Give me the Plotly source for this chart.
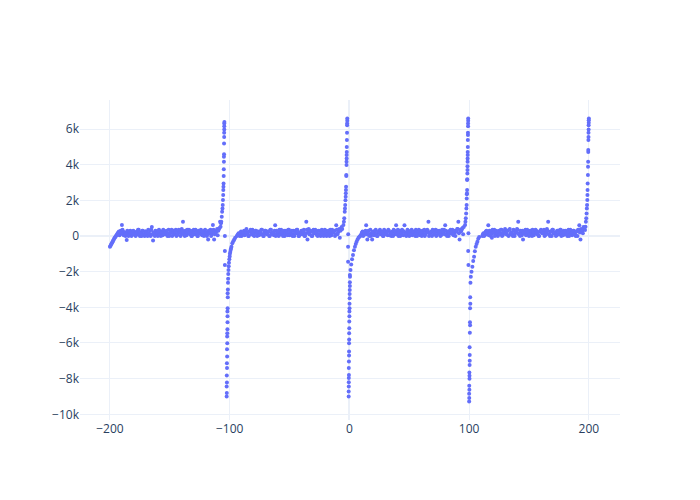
import plotly.graph_objects as go

# ---- baseline segments: start x, step 1, y values ----
base_a_x0 = -200
base_a_y = [-600, -480, -350, -220, -100, 0, 100, 200, 50, 300, 620, 250, 100, 0, -220,
            200, 100, 300, 0, 150, 250, 50, 200, 100, 350, 0, 200, 300, 100, 0, 250, 150,
            350, 100, 0, 500, -250, 200, 300, 100, 0, 350, 150, 250, 50, 300, 100, 200, 0,
            350, 150, 250, 0, 300, 100, 350, 50, 200, 300, 0, 400, 800, 150, 300, 50, 200,
            350, 100, 0, 250, 350, 100, 200, 0, 300, 150, 350, 50, 200, 300, 100, 0, -200,
            250, 350, 100, 620, -200, 200, 300, 50, 400, 800]
base_a2_x0 = -199.5
base_a2_y = [-540, -400, -280, -150, -50, 50, 150, 250, 100, 200, 350, 50, 200, 100, 300, 0,
             250, 150, 200, 300, 100, 0, 250, 350, 150, 200, 0, 300, 100, 250, 200, 0, 150, 300,
             350, 100, 200, 0, 250, 150, 300, 100, 0, 200, 350, 150, 250, 300, 100, 0, 200, 350,
             150, 300, 250, 0, 100, 350, 200, 150, 300, 100, 0, 250, 350, 200, 150, 300, 0, 100,
             250, 350, 200, 0, 150, 300, 100, 250, 0, 350, 200, 100, 300, 150, 0, 250, 350, 100,
             200, 400, 300, 450]

base_b_x0 = -94
base_b_y = [0, 100, 50, 200, 0, 150, 300, 100, 400, 200, 0, 250, 100, 350, 50, 200, 300, 0,
            150, 250, 100, 350, 0, 200, 300, 100, 250, 0, 350, 150, 200, 50, 600, 300, 100, 0,
            250, 350, 100, 200, 0, 300, 150, 350, 50, 200, 300, 100, 0, 250, 350, 150, 0, 200,
            300, 100, 350, 0, 800, -200, 400, 100, 250, 0, 350, 150, 200, 50, 300, 100, 0,
            350, 200, 100, 300, 0, 250, 150, 350, 50, 200, 300, 0, 600, 100, 300, -100, 350, 400]
base_b2_x0 = -93.5
base_b2_y = [50, 150, 0, 250, 100, 200, 50, 300, 150, 0, 250, 350, 100, 200, 0, 300, 150, 250,
             50, 200, 350, 100, 0, 300, 200, 150, 250, 0, 350, 100, 200, 300, 0, 150, 250, 350,
             100, 200, 0, 300, 150, 250, 50, 350, 200, 100, 0, 300, 250, 150, 350, 0, 200, 100,
             300, 250, 0, 150, 350, 200, 100, 300, 0, 250, 150, 350, 200, 0, 100, 300, 250, 150,
             0, 350, 200, 100, 300, 0, 250, 350, 200, 300, 100, 350, 200, 400, 300, 500]

base_c_x0 = 9
base_c_y = [0, 100, 250, 50, 200, 600, -200, 300, 100, 0, -200, 250, 150, 350, 0, 200, 300,
            100, 250, 0, 350, 150, 200, 50, 300, 100, 0, 250, 350, 100, 600, 200, 0, 300, 150,
            350, 50, 600, 200, 100, 300, 0, 250, 350, 100, 200, 0, 300, 150, 350, 50, 200, 300,
            100, 0, 250, 350, 800, 150, 200, 0, 300, 100, 350, 50, 200, 300, 0, 150, 250, 350,
            600, 100, 200, 0, 300, 150, 350, 50, 200, 300, 400, 800, -200, 250, 400, 100]
base_c2_x0 = 9.5
base_c2_y = [50, 200, 0, 150, 300, 100, 250, 0, 350, 150, 200, 50, 300, 100, 0, 250, 350, 150,
             200, 0, 300, 100, 250, 350, 50, 200, 150, 0, 300, 250, 100, 350, 200, 0, 150, 300,
             250, 100, 0, 350, 200, 150, 300, 50, 250, 100, 350, 0, 200, 300, 150, 0, 250, 350,
             100, 200, 300, 0, 150, 250, 350, 100, 200, 0, 300, 150, 250, 50, 350, 200, 100, 300,
             0, 250, 150, 350, 200, 100, 300, 0, 250, 400, 150, 350, 300, 450, 500]

base_d_x0 = 111
base_d_y = [0, 150, 50, 250, 100, 600, 300, 0, -100, 200, 350, 100, 250, 0, 300, 150, 350,
            50, 200, 400, 100, 300, 0, 400, 200, 100, 350, 0, 250, 400, 800, 150, 300, 50,
            -200, 250, 350, 100, 200, 0, 300, 150, 350, 50, 200, 300, 100, 0, 250, 350, 150,
            200, 0, 300, 400, 800, 100, 250, 0, 350, 150, 200, 50, 300, 100, 350, 0, 200, 300,
            100, 250, 0, 350, 150, 200, 50, 300, 100, 0, 250, 350, 600, -200, 300, 150, 400]
base_d2_x0 = 111.5
base_d2_y = [100, 0, 200, 300, 150, 50, 250, 100, 350, 200, 0, 300, 150, 250, 100, 350, 0, 200,
             300, 150, 250, 50, 350, 100, 200, 0, 300, 150, 250, 350, 100, 0, 200, 300, 150, 250,
             50, 350, 200, 100, 300, 0, 250, 150, 350, 200, 100, 0, 300, 250, 150, 350, 50, 200,
             300, 100, 0, 250, 350, 150, 200, 0, 300, 100, 250, 350, 150, 50, 200, 300, 100, 250,
             0, 350, 150, 200, 300, 100, 250, 0, 350, 200, 400, 300, 500]

# ---- spikes ----
spike1_pos_x = [-107.6, -107.3, -107.0, -106.6, -106.3, -106.0, -105.8, -105.6, -105.4, -105.3,
                -105.2, -105.1, -105.0, -104.9, -104.8, -104.8, -104.7, -104.7, -104.6, -104.6,
                -104.5, -104.5, -104.5, -104.4, -104.0]
spike1_pos_y = [520, 710, 800, 1080, 1360, 1550, 1740, 2020, 2300, 2580, 2760, 2950, 3360, 3750,
                4160, 4440, 4580, 5190, 5560, 5790, 5980, 6160, 6310, 6400, 0]
spike1_neg_x = [-104.0, -104.0, -102.5, -102.4, -102.5, -102.3, -102.4, -102.2, -102.3, -102.1,
                -102.2, -102.0, -102.1, -101.9, -101.8, -101.9, -101.7, -101.6, -101.7, -101.4,
                -101.2, -102.0, -101.8, -101.5, -101.3, -101.0, -100.8, -100.6, -100.3, -100.0,
                -99.8, -99.5, -99.2, -98.9, -98.5, -97.8, -97.0, -96.2, -95.4]
spike1_neg_y = [-840, -1620, -9000, -8810, -8440, -8220, -7830, -7410, -7130, -6760, -6350, -6010,
                -5640, -5230, -4840, -4240, -4050, -3440, -3210, -2620, -2130, -5450, -4500, -3000,
                -2400, -1900, -1700, -1500, -1300, -1150, -1000, -900, -780, -700, -600, -400, -300,
                -200, -100]

spike2_pos_x = [-5.0, -4.6, -4.3, -3.9, -3.7, -3.5, -3.3, -3.1, -3.0, -2.9, -2.8, -2.6, -2.6, -2.4,
                -2.4, -2.3, -2.3, -2.2, -2.2, -2.1, -2.0, -1.9, -1.9, -1.8, -1.8, -1.0]
spike2_pos_y = [620, 800, 990, 1360, 1550, 1740, 2000, 2200, 2400, 2580, 2760, 3360, 3420, 3980,
                4160, 4350, 4540, 4720, 5000, 5380, 5790, 6220, 6310, 6460, 6590, 100]
spike2_neg_x = [-1.1, -1.1, -0.6, -0.6, -0.5, -0.5, -0.4, -0.5, -0.4, -0.3, -0.3, -0.2, -0.1, -0.1,
                0.0, 0.1, 0.2, 0.3, 0.4, 0.5, 0.4, -0.5, -0.3, -0.2, 0.0, 0.1, 0.2, 0.4, 0.9, 1.5,
                2.2, 3.0, 3.8, 4.6, 5.3, 6.0, 6.8, 7.6, 8.4]
spike2_neg_y = [-600, -1440, -9000, -8720, -8440, -7970, -7790, -7410, -7040, -6480, -6010, -5450,
                -5170, -4800, -4240, -4050, -3490, -3030, -2800, -2280, -2180, -8200, -6700, -5800,
                -4500, -3800, -3250, -2600, -1900, -1600, -1300, -1060, -800, -600, -450, -320,
                -200, -100, -40]

spike3_pos_x = [96.6, 96.9, 97.2, 97.5, 97.7, 97.9, 98.0, 98.1, 98.2, 98.3, 98.3, 98.4, 98.5, 98.6,
                98.6, 98.7, 98.7, 98.8, 98.8, 98.9, 98.9, 99.0, 99.0, 99.1, 99.1, 99.2, 99.2, 99.4]
spike3_pos_y = [620, 800, 990, 1270, 1550, 1740, 2110, 2350, 2400, 2580, 3140, 3180, 3510, 3700,
                3920, 4160, 4350, 4540, 4720, 5000, 5380, 5660, 5790, 6160, 6310, 6460, 6590, 150]
spike3_neg_x = [99.2, 99.4, 100.0, 100.1, 100.0, 100.2, 100.1, 100.3, 100.2, 100.4, 100.5, 100.4,
                100.6, 100.7, 100.8, 100.9, 101.1, 100.3, 100.5, 100.8, 101.0, 101.4, 102.0, 102.7,
                103.4, 104.1, 104.8, 105.5, 106.2, 106.9, 107.6, 108.4]
spike3_neg_y = [-840, -1620, -9280, -9090, -8850, -8630, -8400, -7840, -7660, -7230, -6670, -6240,
                -5420, -4840, -4050, -3440, -2620, -8000, -7000, -5000, -3800, -2280, -2000, -1720,
                -1400, -1160, -850, -600, -450, -320, -150, -50]

spike4_pos_x = [196.8, 197.2, 197.5, 197.8, 198.1, 198.3, 198.5, 198.7, 198.8, 198.9, 199.0, 199.2,
                199.3, 199.4, 199.5, 199.5, 199.6, 199.7, 199.7, 199.8, 199.8, 199.9, 199.9, 200.0]
spike4_pos_y = [340, 520, 800, 990, 1270, 1550, 1740, 2020, 2300, 2580, 2950, 3420, 3880, 4160,
                4720, 4820, 5380, 5560, 5790, 5980, 6220, 6350, 6500, 6590]

xs, ys = [], []
for x0, vals in [(base_a_x0, base_a_y), (base_a2_x0, base_a2_y),
                 (base_b_x0, base_b_y), (base_b2_x0, base_b2_y),
                 (base_c_x0, base_c_y), (base_c2_x0, base_c2_y),
                 (base_d_x0, base_d_y), (base_d2_x0, base_d2_y)]:
    xs += [x0 + i for i in range(len(vals))]
    ys += vals
for sx, sy in [(spike1_pos_x, spike1_pos_y), (spike1_neg_x, spike1_neg_y),
               (spike2_pos_x, spike2_pos_y), (spike2_neg_x, spike2_neg_y),
               (spike3_pos_x, spike3_pos_y), (spike3_neg_x, spike3_neg_y),
               (spike4_pos_x, spike4_pos_y)]:
    xs += sx
    ys += sy

fig = go.Figure(go.Scatter(x=xs, y=ys, mode="markers",
                           marker=dict(size=4, color="#636efa")))
# page has an 8px body margin, so the figure is 692x492 with margins shifted
fig.update_layout(template="plotly_white", width=692, height=492, autosize=False,
                  margin=dict(l=72, r=80, t=92, b=80), showlegend=False)
fig.update_xaxes(range=[-225, 226])
fig.update_yaxes(range=[-10320, 7630], dtick=2000)
fig.write_html("out.html")
